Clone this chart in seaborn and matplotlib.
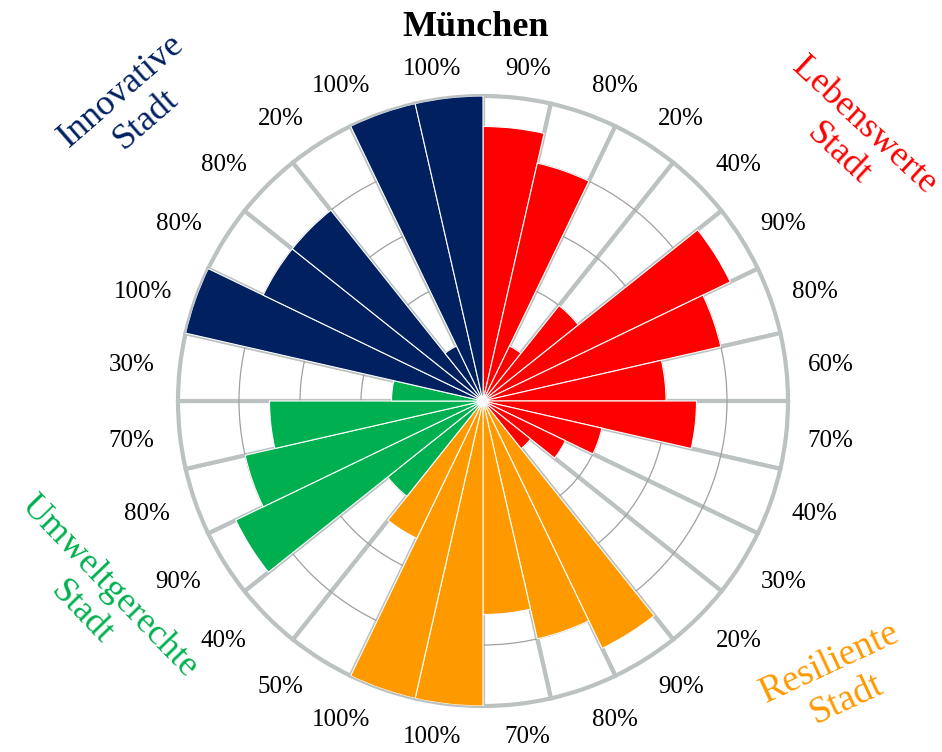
import numpy as np
import pandas as pd
import seaborn as sns
import matplotlib.pyplot as plt

# one bar per indicator, clockwise from the top
values = [90, 80, 20, 40, 90, 80, 60, 70, 40, 30, 20,
          90, 80, 70, 100, 100, 50,
          40, 90, 80, 70, 30,
          100, 80, 80, 20, 100, 100]
groups = (["Lebenswerte Stadt"] * 11 + ["Resiliente Stadt"] * 6
          + ["Umweltgerechte Stadt"] * 5 + ["Innovative Stadt"] * 6)
group_names = ["Lebenswerte Stadt", "Resiliente Stadt", "Umweltgerechte Stadt", "Innovative Stadt"]
group_colors = ["#FF0000", "#FF9900", "#00B050", "#002060"]
group_labels = ["Lebenswerte\nStadt", "Resiliente\nStadt", "Umweltgerechte\nStadt", "Innovative\nStadt"]
title = "München"

sns.set_style("white")
plt.rcParams["font.family"] = ["Liberation Serif", "DejaVu Serif"]
plt.rcParams["text.color"] = "black"

n = len(values)
step = 2 * np.pi / n
theta = (np.arange(n) + 0.5) * step
df = pd.DataFrame({"theta": theta, "value": values, "full": 100, "group": groups})

fig = plt.figure(figsize=(9.42, 7.52), dpi=100)
ax = fig.add_axes([178 / 942, 46 / 752, 610 / 942, 610 / 752], projection="polar")
ax.set_theta_zero_location("N")
ax.set_theta_direction(-1)

# white 100% background sectors with the grey spokes
sns.barplot(data=df, x="theta", y="full", native_scale=True, width=1, color="white",
            saturation=1, edgecolor="#BCC2C2", linewidth=3, errorbar=None,
            zorder=0.3, clip_on=False, ax=ax)
# the actual values
sns.barplot(data=df, x="theta", y="value", hue="group", hue_order=group_names,
            palette=dict(zip(group_names, group_colors)), saturation=1,
            native_scale=True, width=1, dodge=False, edgecolor="white", linewidth=0.8,
            errorbar=None, legend=False, zorder=1, ax=ax)

ax.set_xlim(0, 2 * np.pi)
ax.set_ylim(0, 100)
ax.set_xticks([])
ax.set_yticks([20, 40, 60, 80])
ax.set_yticklabels([])
ax.set_xlabel("")
ax.set_ylabel("")
ax.yaxis.grid(True, color="#A0A0A0", linewidth=0.9)
ax.xaxis.grid(False)
ax.set_axisbelow(True)
ax.spines["polar"].set_visible(False)

# percent labels just outside each sector
for t, v in zip(theta, values):
    lab = f"{v}%"
    hw = (0.5 * (len(lab) - 1) + 0.833) * 25 / 2
    s, c = np.sin(t), np.cos(t)
    g = min(1, 3.5 * abs(s)) * (1 - 0.4 * s * s)
    dx = 33 * s + np.sign(s) * hw * g - 2
    dy = 31 * c - 2
    ax.annotate(lab, xy=(t, 100), xytext=(dx, dy), textcoords="offset pixels",
                ha="center", va="center", fontsize=18, annotation_clip=False)

fig.text(476 / 942, 1 - 27 / 752, title, ha="center", va="center",
         fontsize=26, fontweight="bold")

# group names in the corners
pos = [(851, 140, -43), (838, 681, 25), (95, 600, -46), (134, 105, 41)]
sizes = [26, 27, 26, 26]
for (x, y, rot), lab, col, fs in zip(pos, group_labels, group_colors, sizes):
    fig.text(x / 942, 1 - y / 752, lab, ha="center", va="center", rotation=rot,
             color=col, fontsize=fs, multialignment="center", linespacing=1.2)

fig.savefig("out.png", dpi=100)
